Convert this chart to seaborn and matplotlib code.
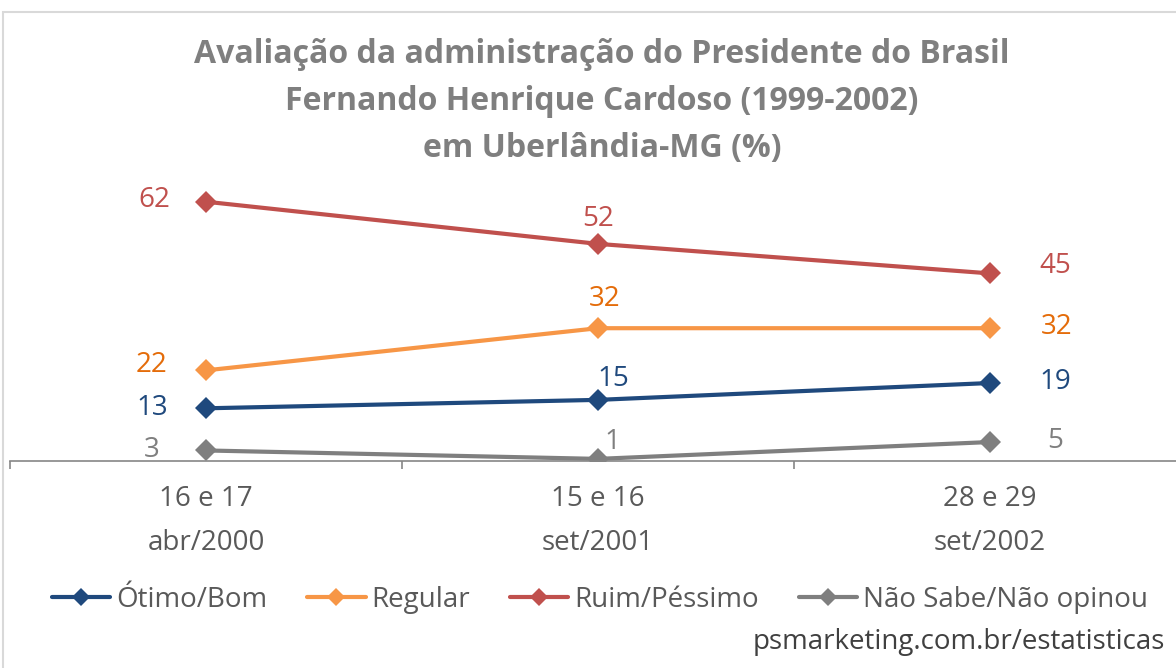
import pandas as pd
import numpy as np
import matplotlib.pyplot as plt
import seaborn as sns
from matplotlib.patches import Rectangle

CATEGORIES = ['16 e 17\nabr/2000', '15 e 16\nset/2001', '28 e 29\nset/2002']
SERIES = ['Ótimo/Bom', 'Regular', 'Ruim/Péssimo', 'Não Sabe/Não opinou']
OTIMO_BOM = [13, 15, 19]
REGULAR = [22, 32, 32]
RUIM_PESSIMO = [62, 52, 45]
NAO_SABE = [3, 1, 5]

LINE_COLOURS = {
    'Ótimo/Bom': '#1F497D',
    'Regular': '#F79646',
    'Ruim/Péssimo': '#C0504D',
    'Não Sabe/Não opinou': '#7F7F7F'
}
LABEL_COLOURS = {
    'Ótimo/Bom': '#1F497D',
    'Regular': '#E46C0A',
    'Ruim/Péssimo': '#C0504D',
    'Não Sabe/Não opinou': '#7F7F7F'
}

# data label offsets (points) for first / middle / last point
LEFT_OFFSETS = {
    'Ótimo/Bom': (-39, 0),
    'Regular': (-39, 4),
    'Ruim/Péssimo': (-37, 1),
    'Não Sabe/Não opinou': (-39, 0)
}
MID_OFFSETS = {
    'Ótimo/Bom': (11, 15),
    'Regular': (5, 21),
    'Ruim/Péssimo': (0, 18),
    'Não Sabe/Não opinou': (10, 12)
}
RIGHT_OFFSETS = {
    'Ótimo/Bom': (47, 1),
    'Regular': (48, 1),
    'Ruim/Péssimo': (47, 5),
    'Não Sabe/Não opinou': (47, 1)
}

df = pd.DataFrame({
    'periodo': CATEGORIES * 4,
    'x': list(range(len(CATEGORIES))) * 4,
    'serie': np.repeat(SERIES, len(CATEGORIES)),
    'valor': OTIMO_BOM + REGULAR + RUIM_PESSIMO + NAO_SABE
})

sns.set_style('white')
plt.rcParams['font.family'] = ['Open Sans', 'DejaVu Sans']

fig = plt.figure(figsize=(11.76, 6.68), dpi=100)
ax = fig.add_axes([10 / 1176, (668 - 461) / 668, 1176 / 1176, (461 - 168) / 668])

sns.lineplot(
    data=df, x='x', y='valor', hue='serie', hue_order=SERIES,
    palette=LINE_COLOURS, marker='D', markersize=11.5, markeredgewidth=0,
    linewidth=3, ax=ax
)

for serie, vals in zip(SERIES, [OTIMO_BOM, REGULAR, RUIM_PESSIMO, NAO_SABE]):
    c = LABEL_COLOURS[serie]
    for i, offsets in enumerate([LEFT_OFFSETS, MID_OFFSETS, RIGHT_OFFSETS]):
        ax.annotate(str(vals[i]), (i, vals[i]), xytext=offsets[serie], textcoords='offset points',
                    ha='center', va='center', fontsize=20, color=c)

ax.set_xlim(-0.5, 2.5)
ax.set_ylim(0.5, 70)
ax.set_xticks(range(len(CATEGORIES)))
ax.set_xticklabels(CATEGORIES, fontsize=20, color='#595959', linespacing=1.8)
ax.set_xticks([-0.5, 0.5, 1.5, 2.5], minor=True)
ax.tick_params(axis='x', which='major', length=0, pad=17)
ax.tick_params(axis='x', which='minor', length=6, color='#868686', width=1.2, direction='out', bottom=True)
ax.set_yticks([])
ax.set_xlabel('')
ax.set_ylabel('')
for s in ['top', 'left', 'right']:
    ax.spines[s].set_visible(False)
ax.spines['bottom'].set_color('#868686')
ax.spines['bottom'].set_linewidth(1.2)
ax.patch.set_alpha(0)

handles, labels = ax.get_legend_handles_labels()
ax.legend_.remove()
for h in handles:
    h.set_markersize(9)
fig.legend(handles, labels, loc='center left', bbox_to_anchor=(52 / 1176, 1 - 600 / 668),
           ncol=4, frameon=False, fontsize=20, labelcolor='#595959',
           handlelength=2.1, handletextpad=0.2, columnspacing=1.45, borderaxespad=0, borderpad=0)

fig.suptitle('Avaliação da administração do Presidente do Brasil\n'
             'Fernando Henrique Cardoso (1999-2002)\nem Uberlândia-MG (%)',
             x=0.512, y=1 - 38 / 668, va='top', fontsize=23, fontweight='bold',
             color='#7F7F7F', linespacing=1.55)

fig.text(1165 / 1176, 1 - 642 / 668, 'psmarketing.com.br/estatisticas', ha='right', va='center',
         fontsize=20, color='#404040')

fig.patches.append(Rectangle((3 / 1176, -0.1), 1.2, 1 - 12 / 668 + 0.1, transform=fig.transFigure,
                             fill=False, edgecolor='#D9D9D9', linewidth=1.5))

fig.savefig('out.png', dpi=100)
